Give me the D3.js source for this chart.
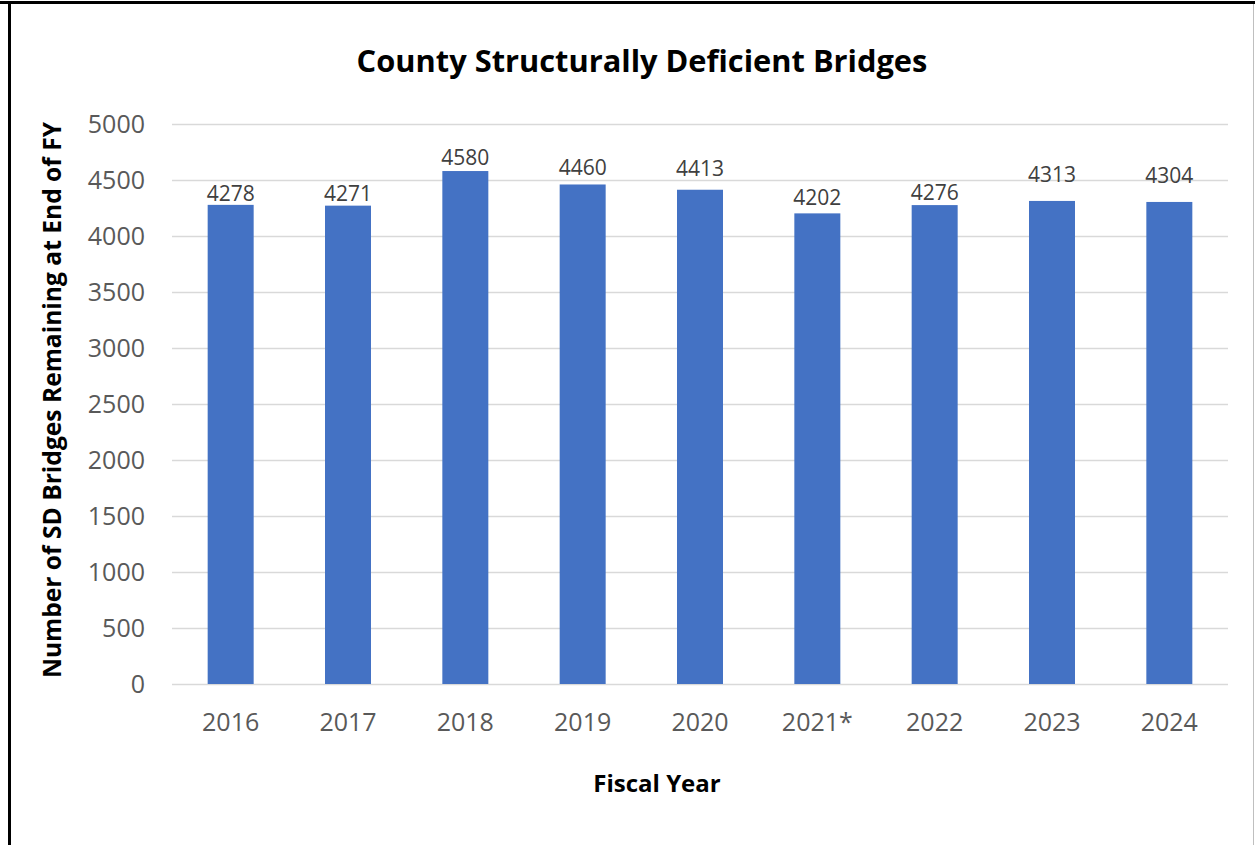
<!DOCTYPE html>
<html>
<head>
<meta charset="utf-8">
<script src="https://cdn.jsdelivr.net/npm/d3@7"></script>
<style>
  body { margin: 0; background: #fff; }
  svg { display: block; }
</style>
</head>
<body>
<svg id="chart" width="1255" height="845"></svg>
<script>
// DATA
const years = ["2016", "2017", "2018", "2019", "2020", "2021*", "2022", "2023", "2024"];
const bridges = [4278, 4271, 4580, 4460, 4413, 4202, 4276, 4313, 4304];
const yTicks = [0, 500, 1000, 1500, 2000, 2500, 3000, 3500, 4000, 4500, 5000];

const chartTitle = "County Structurally Deficient Bridges";
const xTitle = "Fiscal Year";
const yTitle = "Number of SD Bridges Remaining at End of FY";

// labels were nudged by hand in the original, px above bar top
const labelGap = [4, 5, 6, 9, 14, 8, 5, 19, 19];

const font = "'Open Sans', 'Noto Sans', sans-serif";

const svg = d3.select("#chart");

// frame round the chart
svg.append("line").attr("x1", 0).attr("x2", 1255).attr("y1", 2.5).attr("y2", 2.5)
    .attr("stroke", "#000").attr("stroke-width", 3);
svg.append("line").attr("x1", 9.5).attr("x2", 9.5).attr("y1", 1).attr("y2", 845)
    .attr("stroke", "#000").attr("stroke-width", 3);
svg.append("line").attr("x1", 1253.5).attr("x2", 1253.5).attr("y1", 4).attr("y2", 845)
    .attr("stroke", "#bfbfbf").attr("stroke-width", 1);

// SCALES
const plot = { left: 172, right: 1228, top: 124, bottom: 684 };

const x = d3.scaleBand()
    .domain(years)
    .range([plot.left, plot.right])
    .paddingInner(0.608)
    .paddingOuter(0.304);

const y = d3.scaleLinear()
    .domain([0, 5000])
    .range([plot.bottom, plot.top]);

// GRIDLINES + Y LABELS
const yAxis = svg.append("g")
    .attr("transform", `translate(${plot.left},0)`)
    .call(d3.axisLeft(y).tickValues(yTicks).tickFormat(d3.format("d"))
        .tickSize(-(plot.right - plot.left)).tickPadding(27));
yAxis.select(".domain").remove();
yAxis.selectAll(".tick line").attr("stroke", "#d9d9d9").attr("stroke-width", 1.3);
yAxis.selectAll(".tick text")
    .attr("fill", "#595959")
    .style("font-family", font)
    .style("font-size", "25px");

// BARS
svg.append("g").selectAll("rect")
    .data(bridges)
    .join("rect")
    .attr("x", (d, i) => x(years[i]))
    .attr("y", d => y(d))
    .attr("width", x.bandwidth())
    .attr("height", d => y(0) - y(d))
    .attr("fill", "#4472c4");

// VALUE LABELS
svg.append("g").selectAll("text")
    .data(bridges)
    .join("text")
    .attr("x", (d, i) => x(years[i]) + x.bandwidth() / 2)
    .attr("y", (d, i) => y(d) - labelGap[i])
    .attr("text-anchor", "middle")
    .attr("fill", "#404040")
    .style("font-family", font)
    .style("font-size", "21px")
    .text(d => d);

// X LABELS
const xAxis = svg.append("g")
    .attr("transform", `translate(0,${plot.bottom})`)
    .call(d3.axisBottom(x).tickSize(0).tickPadding(29));
xAxis.select(".domain").remove();
xAxis.selectAll(".tick text")
    .attr("fill", "#595959")
    .style("font-family", font)
    .style("font-size", "25px");

// TITLES
svg.append("text")
    .attr("x", 642).attr("y", 72)
    .attr("text-anchor", "middle")
    .attr("fill", "#000")
    .style("font-family", font)
    .style("font-weight", "bold")
    .style("font-size", "30.8px")
    .text(chartTitle);

svg.append("text")
    .attr("x", 657).attr("y", 792)
    .attr("text-anchor", "middle")
    .attr("fill", "#000")
    .style("font-family", font)
    .style("font-weight", "bold")
    .style("font-size", "24px")
    .text(xTitle);

svg.append("text")
    .attr("transform", "translate(61,400) rotate(-90)")
    .attr("text-anchor", "middle")
    .attr("fill", "#000")
    .style("font-family", font)
    .style("font-weight", "bold")
    .style("font-size", "24.6px")
    .text(yTitle);
</script>
</body>
</html>
